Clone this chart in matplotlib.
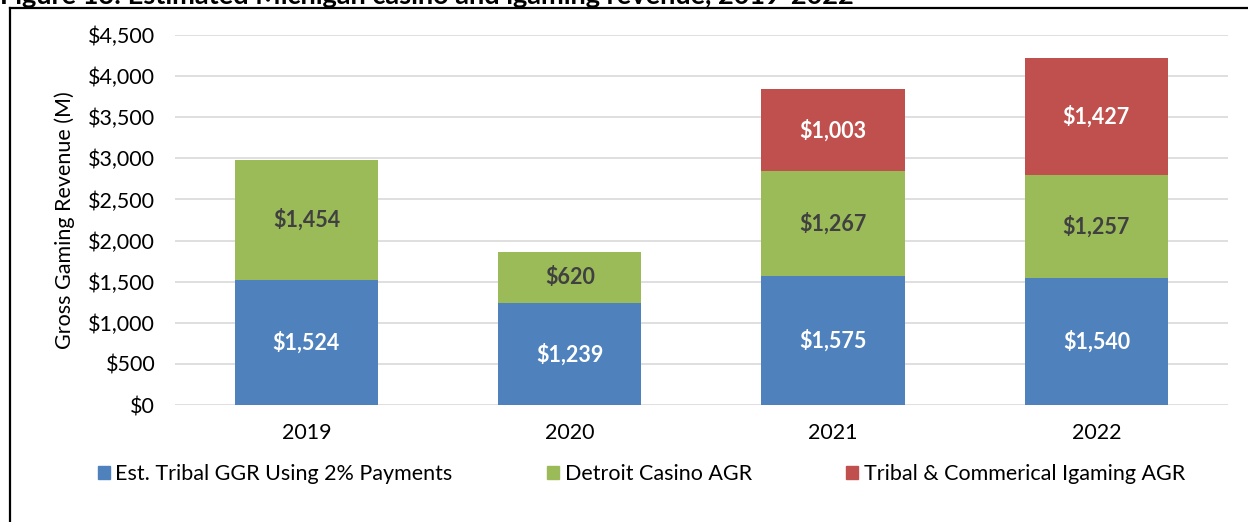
import matplotlib.pyplot as plt
from matplotlib.lines import Line2D
from matplotlib.patches import Patch

years = ["2019", "2020", "2021", "2022"]
tribal = [1524, 1239, 1575, 1540]
detroit = [1454, 620, 1267, 1257]
igaming = [0, 0, 1003, 1427]
series_names = ["Est. Tribal GGR Using 2% Payments", "Detroit Casino AGR",
                "Tribal & Commerical Igaming AGR"]
yticks = [0, 500, 1000, 1500, 2000, 2500, 3000, 3500, 4000, 4500]

plt.rcParams['font.family'] = ['Lato', 'DejaVu Sans']

blue = "#4F81BD"
green = "#9BBB59"
red = "#C0504D"

fig = plt.figure(figsize=(12.48, 5.22), dpi=100)
ax = fig.add_axes([0.140, 0.224, 0.844, 0.709])

x = list(range(len(years)))
w = 0.545
bottom2 = [a + b for a, b in zip(tribal, detroit)]
ax.bar(x, tribal, w, color=blue, zorder=3)
ax.bar(x, detroit, w, bottom=tribal, color=green, zorder=3)
ax.bar(x, igaming, w, bottom=bottom2, color=red, zorder=3)

lab_size = 15.5
for i in x:
    ax.text(i, tribal[i] / 2, "${:,}".format(tribal[i]), ha="center", va="center",
            color="white", fontsize=lab_size, fontweight="bold", zorder=4)
    ax.text(i, tribal[i] + detroit[i] / 2, "${:,}".format(detroit[i]), ha="center",
            va="center", color="#404040", fontsize=lab_size, fontweight="bold", zorder=4)
    if igaming[i] > 0:
        ax.text(i, bottom2[i] + igaming[i] / 2, "${:,}".format(igaming[i]), ha="center",
                va="center", color="white", fontsize=lab_size, fontweight="bold", zorder=4)

ax.set_xlim(-0.5, 3.5)
ax.set_ylim(0, 4500)
ax.set_yticks(yticks)
ax.set_yticklabels(["${:,}".format(v) for v in yticks])
ax.set_xticks(x)
ax.set_xticklabels(years)
ax.tick_params(length=0, labelsize=15.5, colors="#000000")
ax.tick_params(axis="y", pad=14)
ax.tick_params(axis="x", pad=13)
ax.grid(axis="y", color="#D9D9D9", linewidth=1.2, zorder=0)
for s in ["top", "right", "left", "bottom"]:
    ax.spines[s].set_visible(False)
ax.set_ylabel("Gross Gaming Revenue (M)", fontsize=15.5)
ax.yaxis.set_label_coords(-0.095, 0.5)

handles = [Patch(color=c) for c in [blue, green, red]]
fig.legend(handles, series_names, loc="center", bbox_to_anchor=(0.514, 0.092), ncol=3,
           frameon=False, fontsize=15.5, handlelength=0.55, handleheight=0.55,
           handletextpad=0.25, columnspacing=4.4)

# frame around chart
fig.add_artist(Line2D([10 / 1248, 10 / 1248], [0, 1 - 8 / 522], transform=fig.transFigure,
                      color="#000000", linewidth=1.6))
fig.add_artist(Line2D([10 / 1248, 1], [1 - 8 / 522, 1 - 8 / 522], transform=fig.transFigure,
                      color="#000000", linewidth=1.6))

fig.text(0.0, 1 - 4 / 522, "Figure 13: Estimated Michigan casino and igaming revenue, 2019-2022",
         fontsize=19.5, fontweight="bold", va="baseline", ha="left")

fig.savefig("out.png", dpi=100)
